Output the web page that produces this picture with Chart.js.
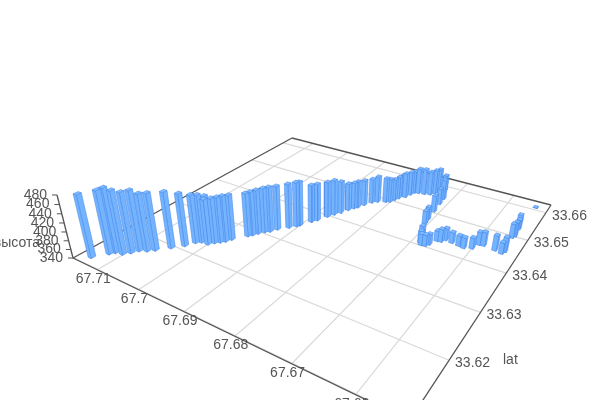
<!DOCTYPE html>
<html>
<head>
<meta charset="utf-8">
<style>body{margin:0;background:#fff}</style>
<script src="https://cdn.jsdelivr.net/npm/chart.js@4"></script>
</head>
<body>
<canvas id="bars" width="600" height="400"></canvas>
<script>
var lon = [67.7140,67.7123,67.7117,67.7103,67.7094,67.7087,67.7075,67.7065,67.7047,67.7032,
    67.7023,67.7015,67.7008,67.7001,67.6994,67.6987,67.6981,67.6976,67.6959,67.6954,
    67.6949,67.6942,67.6935,67.6928,67.6914,67.6905,67.6902,67.6891,67.6885,67.6876,
    67.6870,67.6863,67.6856,67.6850,67.6846,67.6840,67.6832,67.6824,67.6810,67.6803,
    67.6799,67.6795,67.6793,67.6786,67.6782,67.6779,67.6771,67.6759,67.6748,67.6742,
    67.6737,67.6729,67.6717,67.6715,67.6712,67.6709,67.6707,67.6692,67.6685,67.6681,
    67.6674,67.6670,67.6663,67.6656,67.6651,67.6638,67.6624,67.6614,67.6601,67.6595,
    67.6587,67.6565,67.6552,67.6549,67.6553,67.6550,67.6552,67.6558,67.6548];
var lat = [33.6116,33.6136,33.6143,33.6146,33.6155,33.6165,33.6171,33.6179,33.6196,33.6211,
    33.6226,33.6232,33.6240,33.6233,33.6241,33.6247,33.6253,33.6262,33.6283,33.6289,
    33.6297,33.6306,33.6312,33.6323,33.6337,33.6347,33.6352,33.6371,33.6380,33.6398,
    33.6410,33.6421,33.6435,33.6445,33.6451,33.6464,33.6478,33.6486,33.6493,33.6497,
    33.6507,33.6516,33.6528,33.6526,33.6539,33.6549,33.6552,33.6554,33.6558,33.6566,
    33.6573,33.6585,33.6555,33.6535,33.6507,33.6478,33.6464,33.6426,33.6409,33.6404,
    33.6405,33.6411,33.6427,33.6428,33.6436,33.6434,33.6432,33.6430,33.6436,33.6451,
    33.6452,33.6449,33.6446,33.6453,33.6497,33.6503,33.6527,33.6551,33.6610];
var alt = [481,483,486,483,477,477,470,470,468,460,
    451,450,445,444,444,445,446,444,441,442,
    443,444,445,443,444,445,444,429,428,425,
    424,417,406,404,405,402,400,404,400,398,
    393,395,394,401,398,396,403,404,399,400,
    400,380,389,379,380,371,371,366,368,366,
    366,365,364,370,368,365,364,365,365,370,
    372,375,366,374,373,374,363,357,341];

var lonTicks = [67.71,67.7,67.69,67.68,67.67,67.66];
var latTicks = [33.61,33.62,33.63,33.64,33.65,33.66];
var altTicks = [340,360,380,400,420,440,460,480];
var lonRange = [67.6525,67.7164];
var latRange = [33.6099,33.6631];
var altRange = [340,480];
var barSize = 0.0004;

var BAR_FILL = 'rgb(116,180,255)';
var BAR_TOP = 'rgb(128,188,255)';
var BAR_EDGE = 'rgba(66,130,232,0.85)';
var GRID = '#d9d9d9';
var AXIS = '#555';
var TEXT = '#555';

// camera fitted to the reference's floor corners and altitude axis
function project(lo, la, al) {
    var s = (lonRange[1] - lo) / (lonRange[1] - lonRange[0]);
    var t = (la - latRange[0]) / (latRange[1] - latRange[0]);
    var z = (al - altRange[0]) / (altRange[1] - altRange[0]);
    var w = -0.29992 * s + 0.46281 * t + 1 - 0.061 * z;
    return {
        x: (213.61 * s + 354.14 * t + 73 - 19.46 * z) / w,
        y: (36.52 * s - 56.13 * t + 258 - 74.9 * z) / w
    };
}

function depth(i) {
    var s = (lonRange[1] - lon[i]) / (lonRange[1] - lonRange[0]);
    var t = (lat[i] - latRange[0]) / (latRange[1] - latRange[0]);
    return -0.29992 * s + 0.46281 * t;
}

function face(points, fill) {
    return {
        data: points.concat([points[0]]),
        showLine: true,
        fill: 'shape',
        backgroundColor: fill,
        borderColor: BAR_EDGE,
        borderWidth: 0.6,
        pointRadius: 0,
        tension: 0
    };
}

function segment(a, b, color, width) {
    return {
        data: [a, b],
        showLine: true,
        fill: false,
        borderColor: color,
        borderWidth: width,
        pointRadius: 0
    };
}

var datasets = [];

// index 0 is painted last, so the nearest bars go first
var order = lon.map(function (v, i) { return i; });
order.sort(function (a, b) { return depth(a) - depth(b); });
order.forEach(function (i) {
    var lo0 = lon[i] + barSize, lo1 = lon[i] - barSize;
    var la0 = lat[i] - barSize, la1 = lat[i] + barSize;
    var h = alt[i], b = altRange[0];
    datasets.push(face([project(lo0, la0, h), project(lo1, la0, h), project(lo1, la1, h), project(lo0, la1, h)], BAR_TOP));
    datasets.push(face([project(lo0, la0, b), project(lo1, la0, b), project(lo1, la0, h), project(lo0, la0, h)], BAR_FILL));
    datasets.push(face([project(lo1, la0, b), project(lo1, la1, b), project(lo1, la1, h), project(lo1, la0, h)], BAR_FILL));
});

// axis frame
var lo0 = lonRange[1], lo1 = lonRange[0], la0 = latRange[0], la1 = latRange[1], b0 = altRange[0];
datasets.push(segment(project(lo0, la0, b0), project(lo0, la1, b0), AXIS, 1.3));
datasets.push(segment(project(lo0, la1, b0), project(lo1, la1, b0), AXIS, 1.3));
datasets.push(segment(project(lo1, la1, b0), project(lo1, la0, b0), AXIS, 1.3));
datasets.push(segment(project(lo0, la0, b0), project(lo1, la0, b0), AXIS, 1.3));
datasets.push(segment(project(lo0, la0, b0), project(lo0, la0, altRange[1]), AXIS, 1.3));

altTicks.forEach(function (v) {
    var p = project(lo0, la0, v);
    datasets.push(segment(p, {x: p.x - 5, y: p.y}, AXIS, 1));
});
lonTicks.forEach(function (v) {
    datasets.push(segment(project(v, la0, b0), project(v, la1, b0), GRID, 1.2));
});
latTicks.forEach(function (v) {
    datasets.push(segment(project(lo0, v, b0), project(lo1, v, b0), GRID, 1.2));
});

var axisText = {
    id: 'axisText',
    afterDraw: function (chart) {
        var c = chart.ctx, sx = chart.scales.x, sy = chart.scales.y;
        function put(p, text, dx, dy, align) {
            c.textAlign = align;
            c.fillText(text, sx.getPixelForValue(p.x) + dx, sy.getPixelForValue(p.y) + dy);
        }
        c.save();
        c.font = "14px 'Liberation Sans', Arial, sans-serif";
        c.fillStyle = TEXT;
        c.textBaseline = 'middle';
        lonTicks.forEach(function (v) { put(project(v, la0, b0), String(v), -4, 9, 'center'); });
        latTicks.forEach(function (v) { put(project(lo1, v, b0), String(v), 6, 3, 'left'); });
        altTicks.forEach(function (v) { put(project(lo0, la0, v), String(v), -10, 0, 'right'); });
        c.textAlign = 'left';
        c.fillText('lat', 503, 360);
        c.textAlign = 'right';
        c.fillText('высота', 40, 243);
        c.restore();
    }
};

var myChart = new Chart(document.getElementById('bars').getContext('2d'), {
    type: 'scatter',
    data: {datasets: datasets},
    options: {
        responsive: false,
        animation: false,
        layout: {padding: 0},
        plugins: {legend: {display: false}, tooltip: {enabled: false}},
        scales: {
            x: {type: 'linear', min: 0, max: 600, display: false},
            y: {type: 'linear', min: 0, max: 400, reverse: true, display: false}
        }
    },
    plugins: [axisText]
});
</script>
</body>
</html>
